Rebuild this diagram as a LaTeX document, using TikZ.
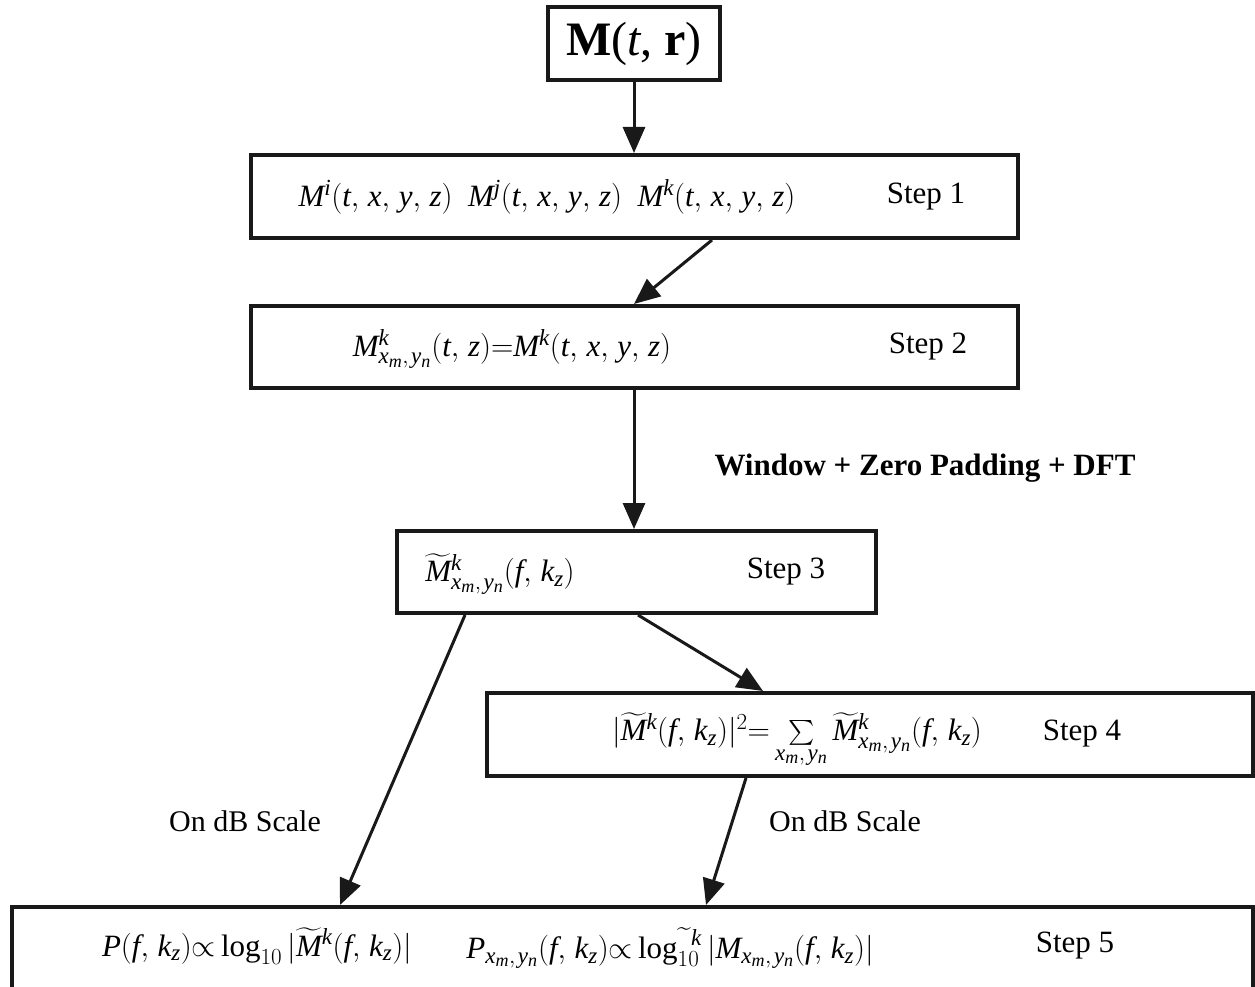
\RequirePackage{fix-cm}
\documentclass[tikz,border=0pt]{standalone}
\usepackage{amsmath}
\usepackage{fontspec}
\setmainfont{Liberation Serif}
\usetikzlibrary{arrows.meta}
\DeclareMathSizes{31}{31}{23}{18}
\newcommand{\cma}{,\mkern2mu}
\tikzset{
  box/.style={draw=black!90, line width=4pt, inner sep=0pt},
  arr/.style={draw=black!90, line width=3pt, -{Triangle[length=26pt,width=22pt]}},
  txt/.style={font=\fontsize{31}{36}\selectfont, inner sep=0pt},
  lbl/.style={font=\fontsize{30}{36}\selectfont, inner sep=0pt},
  bold/.style={font=\fontsize{31}{36}\selectfont\bfseries, inner sep=0pt}
}
\begin{document}
\begin{tikzpicture}[x=1pt,y=-1pt]
\useasboundingbox (0,0) rectangle (1255,987);
% boxes
\node[box, minimum width=172pt, minimum height=73pt] (top) at (634,43.5)
  {\fontsize{48}{52}\selectfont\textbf{M}(\textit{t}, \textbf{r})};
\node[box, minimum width=767pt, minimum height=83pt] (s1) at (634,196.5) {};
\node[box, minimum width=767pt, minimum height=82pt] (s2) at (634,347) {};
\node[box, minimum width=479pt, minimum height=82pt] (s3) at (636.5,572) {};
\node[box, minimum width=766pt, minimum height=83pt] (s4) at (870,734.5) {};
\node[box, minimum width=1241pt, minimum height=83pt] (s5) at (632.5,948.5) {};
% texts
\node[txt] (f1) at (547,197) {$\mathit{M^i(t\cma x\cma y\cma z)}$\ \ $\mathit{M^j(t\cma x\cma y\cma z)}$\ \ $\mathit{M^k(t\cma x\cma y\cma z)}$};
\node[txt] (t1) at (926,197) {Step 1};
\node[txt] (f2) at (512,349) {$\mathit{M^k_{x_m\cma y_n}(t\cma z)}{=}\mathit{M^k(t\cma x\cma y\cma z)}$};
\node[txt] (t2) at (928,347) {Step 2};
\node[txt] (f3) at (500,574) {$\widetilde{\mathit{M}}{}^{\mathit{k}}_{\mathit{x_m\cma y_n}}(\mathit{f\cma k_z})$};
\node[txt] (t3) at (786,572) {Step 3};
\node[txt] (f4) at (797,740) {$|\widetilde{\mathit{M}}{}^{\mathit{k}}(\mathit{f\cma k_z})|^2{=}\sum\limits_{\mathit{x_m\cma y_n}}\widetilde{\mathit{M}}{}^{\mathit{k}}_{\mathit{x_m\cma y_n}}(\mathit{f\cma k_z})$};
\node[txt] (t4) at (1082,734) {Step 4};
\node[txt] (f5a) at (257,946) {$\mathit{P(f\cma k_z)}{\propto}\log_{10}|\widetilde{\mathit{M}}{}^{\mathit{k}}(\mathit{f\cma k_z})|$};
\node[txt] (f5b) at (670,948) {$\mathit{P_{x_m\cma y_n}(f\cma k_z)}{\propto}\log^{\widetilde{\phantom{n}}\mathit{k}}_{10}|\mathit{M_{x_m\cma y_n}(f\cma k_z)}|$};
\node[txt] (t5) at (1075,946) {Step 5};
\node[bold] (w) at (925,468) {Window + Zero Padding + DFT};
\node[lbl] (d1) at (245,821) {On dB Scale};
\node[lbl] (d2) at (845,821) {On dB Scale};
% arrows
\draw[arr] (top.south) -- (s1.north);
\draw[arr] (s1.south -| 712,0) -- (s2.north);
\draw[arr] (s2.south) -- (s2.south |- s3.north);
\draw[arr] (s3.south -| 638,0) -- (s4.north -| 763,0);
\draw[arr] (s3.south -| 465,0) -- (s5.north -| 340,0);
\draw[arr] (s4.south -| 746,0) -- (s5.north -| 706,0);
\end{tikzpicture}
\end{document}
